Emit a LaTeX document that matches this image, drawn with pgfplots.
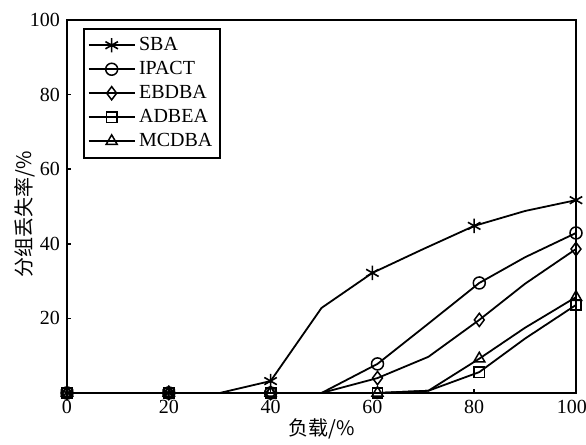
\documentclass[border=0pt]{standalone}
\usepackage{fontspec}
\setmainfont{Liberation Serif}
\newfontfamily\cjk{Noto Sans CJK SC}
\usepackage{pgfplots}
\pgfplotsset{compat=1.18}
\begin{document}
\begin{tikzpicture}
\path[use as bounding box] (-33.5pt,-26pt) rectangle (259.5pt,196.5pt);
\begin{axis}[
  at={(0,0)}, anchor=south west,
  scale only axis, width=254.5pt, height=186.5pt,
  xmin=0, xmax=100, ymin=0, ymax=100,
  xtick={0,20,...,100}, ytick={20,40,...,100},
  xticklabels={0,20,40,60,80,{\hspace{-4pt}100}},
  tick align=inside, tick pos=left, major tick length=2pt,
  axis line style={line width=1pt},
  every tick/.style={line width=0.8pt, black},
  /pgf/number format/assume math mode=true,
  tick label style={font=\normalsize},
  xlabel={\cjk 负载/\%}, ylabel={\cjk 分组丢失率/\%},
  xlabel style={at={(axis description cs:0.5,-0.095)}, anchor=center},
  ylabel style={at={(axis description cs:-0.083,0.48)}, anchor=center},
  every axis plot/.append style={black, line width=0.9pt, mark repeat=2},
  legend style={at={(axis description cs:0.031,0.979)}, anchor=north west, draw=black, line width=1pt, inner xsep=2pt, inner ysep=2.2pt, row sep=0pt, nodes={text height=7pt, text depth=1.5pt, inner sep=1.75pt, anchor=west}, font=\normalsize},
  legend cell align=left,
  legend image code/.code={\draw[mark repeat=2,mark phase=2,#1] plot coordinates {(0pt,0pt) (11.5pt,0pt) (23pt,0pt)};},
]
\addplot[mark=asterisk, mark size=3.6pt, mark options={solid, line width=0.8pt}] coordinates {
(0,0) (10,0) (20,0) (30,0) (40,3.2) (50,22.8) (60,32.2) (70,38.6) (80,44.8) (90,48.8) (100,51.7)};
\addlegendentry{SBA}
\addplot[mark=o, mark size=3pt, mark options={solid, fill=white, line width=0.75pt}] coordinates {
(0,0) (10,0) (20,0) (30,0) (40,0) (50,0) (61,7.8) (71,18.6) (81,29.5) (90,36.4) (100,42.9)};
\addlegendentry{IPACT}
\addplot[mark=diamond, mark size=3.3pt, mark options={solid, fill=white, line width=0.75pt}] coordinates {
(0,0) (10,0) (20,0) (30,0) (40,0) (50,0) (61,4) (71,9.7) (81,19.6) (90,29.3) (100,38.6)};
\addlegendentry{EBDBA}
\addplot[mark=square, mark size=2.6pt, mark options={solid, fill=white, line width=0.75pt}] coordinates {
(0,0) (10,0) (20,0) (30,0) (40,0) (50,0) (61,0) (71,0.6) (81,5.6) (90,14.6) (100,23.6)};
\addlegendentry{ADBEA}
\addplot[mark=triangle, mark size=3.2pt, mark options={solid, fill=white, line width=0.75pt}] coordinates {
(0,0) (10,0) (20,0) (30,0) (40,0) (50,0) (61,0) (71,0.6) (81,9.2) (90,17.5) (100,25.7)};
\addlegendentry{MCDBA}
\end{axis}
\end{tikzpicture}
\end{document}
